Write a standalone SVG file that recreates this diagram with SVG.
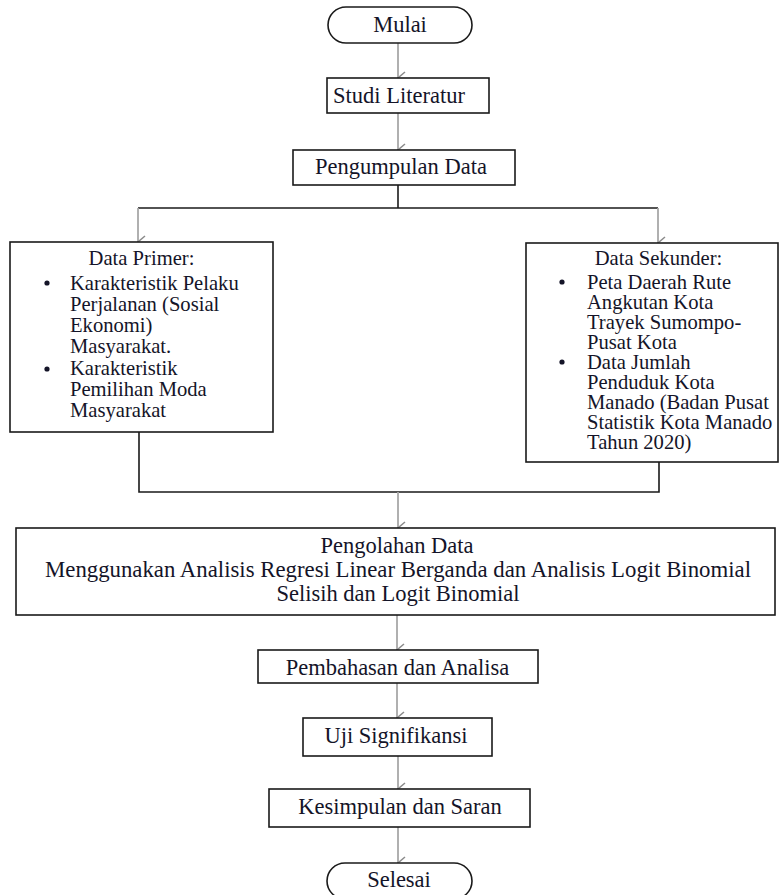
<svg xmlns="http://www.w3.org/2000/svg" width="779" height="895" viewBox="0 0 779 895">
<defs>
<style>
.box{fill:#fff;stroke:#1a1a1a;stroke-width:1.6}
.t{font-family:"Liberation Serif","Times New Roman",serif;font-size:22.5px;fill:#141428}
.c{text-anchor:middle}
.s{font-size:20.6px}
.ln{fill:none;stroke:#1a1a1a;stroke-width:1.6}
.ar{fill:none;stroke:#a8a8a8;stroke-width:1.8}
.hd{fill:none;stroke:#8c8c8c;stroke-width:1.5}
</style>
<marker id="v" viewBox="0 0 14 10" refX="7" refY="9" markerWidth="14" markerHeight="10" markerUnits="userSpaceOnUse" orient="auto">
<path d="M1,2 L7,9 L13,2" class="hd"/>
</marker>
</defs>
<g id="connectors">
<line class="ar" x1="398" y1="43" x2="398" y2="78" marker-end="url(#v)"/>
<line class="ar" x1="398" y1="113" x2="398" y2="150" marker-end="url(#v)"/>
<polyline class="ln" points="398,185 398,208"/>
<polyline class="ln" points="138,208 658,208"/>
<line class="ar" x1="138" y1="208" x2="138" y2="242" marker-end="url(#v)"/>
<line class="ar" x1="658" y1="208" x2="658" y2="243" marker-end="url(#v)"/>
<polyline class="ln" points="139,432 139,492 659,492 659,462"/>
<line class="ar" x1="398" y1="492" x2="398" y2="528" marker-end="url(#v)"/>
<line class="ar" x1="397" y1="615" x2="397" y2="650" marker-end="url(#v)"/>
<line class="ar" x1="397" y1="683" x2="397" y2="718" marker-end="url(#v)"/>
<line class="ar" x1="398" y1="756" x2="398" y2="789" marker-end="url(#v)"/>
<line class="ar" x1="398" y1="827" x2="398" y2="863" marker-end="url(#v)"/>
</g>
<g id="mulai">
<rect class="box" x="328" y="7" width="144" height="36" rx="18"/>
<text class="t c" x="400" y="32">Mulai</text>
</g>
<g id="studi">
<rect class="box" x="327" y="78" width="162" height="35"/>
<text class="t c" x="399" y="103">Studi Literatur</text>
</g>
<g id="pengumpulan">
<rect class="box" x="293" y="150" width="222" height="35"/>
<text class="t c" x="401" y="174">Pengumpulan Data</text>
</g>
<g id="primer">
<rect class="box" x="10" y="242" width="263" height="190"/>
<text class="t s c" x="141.5" y="265">Data Primer:</text>
<circle cx="47" cy="283" r="2.6" fill="#141428"/>
<circle cx="47" cy="369" r="2.6" fill="#141428"/>
<text class="t s" x="70" y="290">Karakteristik Pelaku</text>
<text class="t s" x="70" y="311">Perjalanan (Sosial</text>
<text class="t s" x="70" y="332">Ekonomi)</text>
<text class="t s" x="70" y="353">Masyarakat.</text>
<text class="t s" x="70" y="375">Karakteristik</text>
<text class="t s" x="70" y="396">Pemilihan Moda</text>
<text class="t s" x="70" y="417">Masyarakat</text>
</g>
<g id="sekunder">
<rect class="box" x="526" y="243" width="252" height="219"/>
<text class="t s c" x="658.5" y="265">Data Sekunder:</text>
<circle cx="562" cy="282" r="2.6" fill="#141428"/>
<circle cx="562" cy="362" r="2.6" fill="#141428"/>
<text class="t s" x="587" y="289">Peta Daerah Rute</text>
<text class="t s" x="587" y="309">Angkutan Kota</text>
<text class="t s" x="587" y="329">Trayek Sumompo-</text>
<text class="t s" x="587" y="349">Pusat Kota</text>
<text class="t s" x="587" y="369">Data Jumlah</text>
<text class="t s" x="587" y="389">Penduduk Kota</text>
<text class="t s" x="587" y="409">Manado (Badan Pusat</text>
<text class="t s" x="587" y="429">Statistik Kota Manado</text>
<text class="t s" x="587" y="449">Tahun 2020)</text>
</g>
<g id="pengolahan">
<rect class="box" x="16" y="528" width="759" height="87"/>
<text class="t c" x="397" y="553">Pengolahan Data</text>
<text class="t c" x="398" y="577" textLength="706" lengthAdjust="spacingAndGlyphs">Menggunakan Analisis Regresi Linear Berganda dan Analisis Logit Binomial</text>
<text class="t c" x="398" y="601">Selisih dan Logit Binomial</text>
</g>
<g id="pembahasan">
<rect class="box" x="258" y="650" width="280" height="33"/>
<text class="t c" x="397.5" y="675">Pembahasan dan Analisa</text>
</g>
<g id="uji">
<rect class="box" x="303" y="718" width="189" height="38"/>
<text class="t c" x="396" y="743">Uji Signifikansi</text>
</g>
<g id="kesimpulan">
<rect class="box" x="269" y="789" width="261" height="38"/>
<text class="t c" x="400" y="814">Kesimpulan dan Saran</text>
</g>
<g id="selesai">
<rect class="box" x="327" y="863" width="145" height="36" rx="18"/>
<text class="t c" x="399" y="887">Selesai</text>
</g>
</svg>
